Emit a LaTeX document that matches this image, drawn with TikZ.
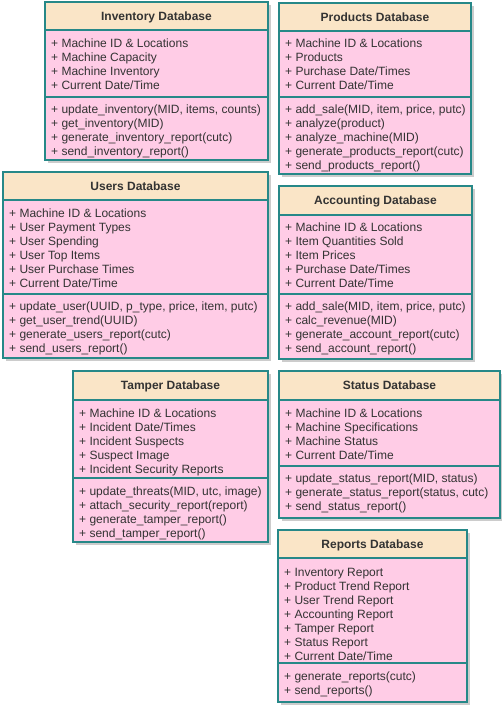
\documentclass[tikz,border=0pt]{standalone}
\usepackage{fontspec}
\setmainfont{Liberation Sans}
\definecolor{dbline}{HTML}{268888}
\definecolor{dbhead}{HTML}{FAE5C7}
\definecolor{dbbody}{HTML}{FFCCE6}
\definecolor{dbtext}{HTML}{333333}
\tikzset{
  dbframe/.style={draw=dbline, line width=1.8pt},
  dbshadow/.style={fill=black!40, opacity=0.5},
  dbtitle/.style={anchor=base, inner sep=0pt, font=\fontsize{12}{14}\selectfont\bfseries, text=dbtext},
  rowtext/.style={anchor=base west, inner sep=0pt, font=\fontsize{12}{14}\selectfont, text=dbtext}
}
% #1 name, #2 x1, #3 x2, #4 ytop, #5 yhead, #6 ydiv, #7 ybot, #8 title
\newcommand\dbbox[8]{%
  \fill[dbshadow] (#2+3,#4+3) rectangle (#3+3,#7+3);
  \draw[dbframe, fill=dbbody] (#2,#6) rectangle (#3,#7);
  \draw[dbframe, fill=dbbody] (#2,#5) rectangle (#3,#6);
  \draw[dbframe, fill=dbhead] (#2,#4) rectangle (#3,#5);
  \node[dbtitle] (#1) at ({(#2+#3)/2},{(#4+#5)/2+4.3}) {#8};
}
% #1 name, #2 x, #3 first row top, #4 list
\newcommand\dbrows[4]{%
  \foreach \t [count=\i from 0] in {#4} {
    \node[rowtext] (#1-\i) at (#2+6,#3+16.5+14*\i) {\t};
  }
}
\begin{document}
\begin{tikzpicture}[x=1pt,y=-1pt]
\useasboundingbox (0,0) rectangle (502,707);

% Inventory
\dbbox{inv}{45}{268}{2}{30}{97}{160}{Inventory Database}
\dbrows{inva}{45}{31}{{+ Machine ID \& Locations},{+ Machine Capacity},{+ Machine Inventory},{+ Current Date/Time}}
\dbrows{invm}{45}{97}{{+ update\_inventory(MID, items, counts)},{+ get\_inventory(MID)},{+ generate\_inventory\_report(cutc)},{+ send\_inventory\_report()}}

% Products
\dbbox{prod}{279}{471}{3}{31}{97}{174}{Products Database}
\dbrows{proda}{279}{31}{{+ Machine ID \& Locations},{+ Products},{+ Purchase Date/Times},{+ Current Date/Time}}
\dbrows{prodm}{279}{97}{{+ add\_sale(MID, item, price, putc)},{+ analyze(product)},{+ analyze\_machine(MID)},{+ generate\_products\_report(cutc)},{+ send\_products\_report()}}

% Users
\dbbox{usr}{3}{268}{172}{200}{294}{358}{Users Database}
\dbrows{usra}{3}{201}{{+ Machine ID \& Locations},{+ User Payment Types},{+ User Spending},{+ User Top Items},{+ User Purchase Times},{+ Current Date/Time}}
\dbrows{usrm}{3}{294}{{+ update\_user(UUID, p\_type, price, item, putc)},{+ get\_user\_trend(UUID)},{+ generate\_users\_report(cutc)},{+ send\_users\_report()}}

% Accounting
\dbbox{acc}{279}{472}{186}{215}{294}{359}{Accounting Database}
\dbrows{acca}{279}{215}{{+ Machine ID \& Locations},{+ Item Quantities Sold},{+ Item Prices},{+ Purchase Date/Times},{+ Current Date/Time}}
\dbrows{accm}{279}{294}{{+ add\_sale(MID, item, price, putc)},{+ calc\_revenue(MID)},{+ generate\_account\_report(cutc)},{+ send\_account\_report()}}

% Tamper
\dbbox{tmp}{73}{268}{371}{400}{478}{542}{Tamper Database}
\dbrows{tmpa}{73}{401}{{+ Machine ID \& Locations},{+ Incident Date/Times},{+ Incident Suspects},{+ Suspect Image},{+ Incident Security Reports}}
\dbrows{tmpm}{73}{479}{{+ update\_threats(MID, utc, image)},{+ attach\_security\_report(report)},{+ generate\_tamper\_report()},{+ send\_tamper\_report()}}

% Status
\dbbox{sts}{279}{500}{371}{400}{466}{518}{Status Database}
\dbrows{stsa}{279}{401}{{+ Machine ID \& Locations},{+ Machine Specifications},{+ Machine Status},{+ Current Date/Time}}
\dbrows{stsm}{279}{466}{{+ update\_status\_report(MID, status)},{+ generate\_status\_report(status, cutc)},{+ send\_status\_report()}}

% Reports
\dbbox{rep}{278}{467}{530}{558}{663}{702}{Reports Database}
\dbrows{repa}{278}{560}{{+ Inventory Report},{+ Product Trend Report},{+ User Trend Report},{+ Accounting Report},{+ Tamper Report},{+ Status Report},{+ Current Date/Time}}
\dbrows{repm}{278}{664}{{+ generate\_reports(cutc)},{+ send\_reports()}}
\end{tikzpicture}
\end{document}
